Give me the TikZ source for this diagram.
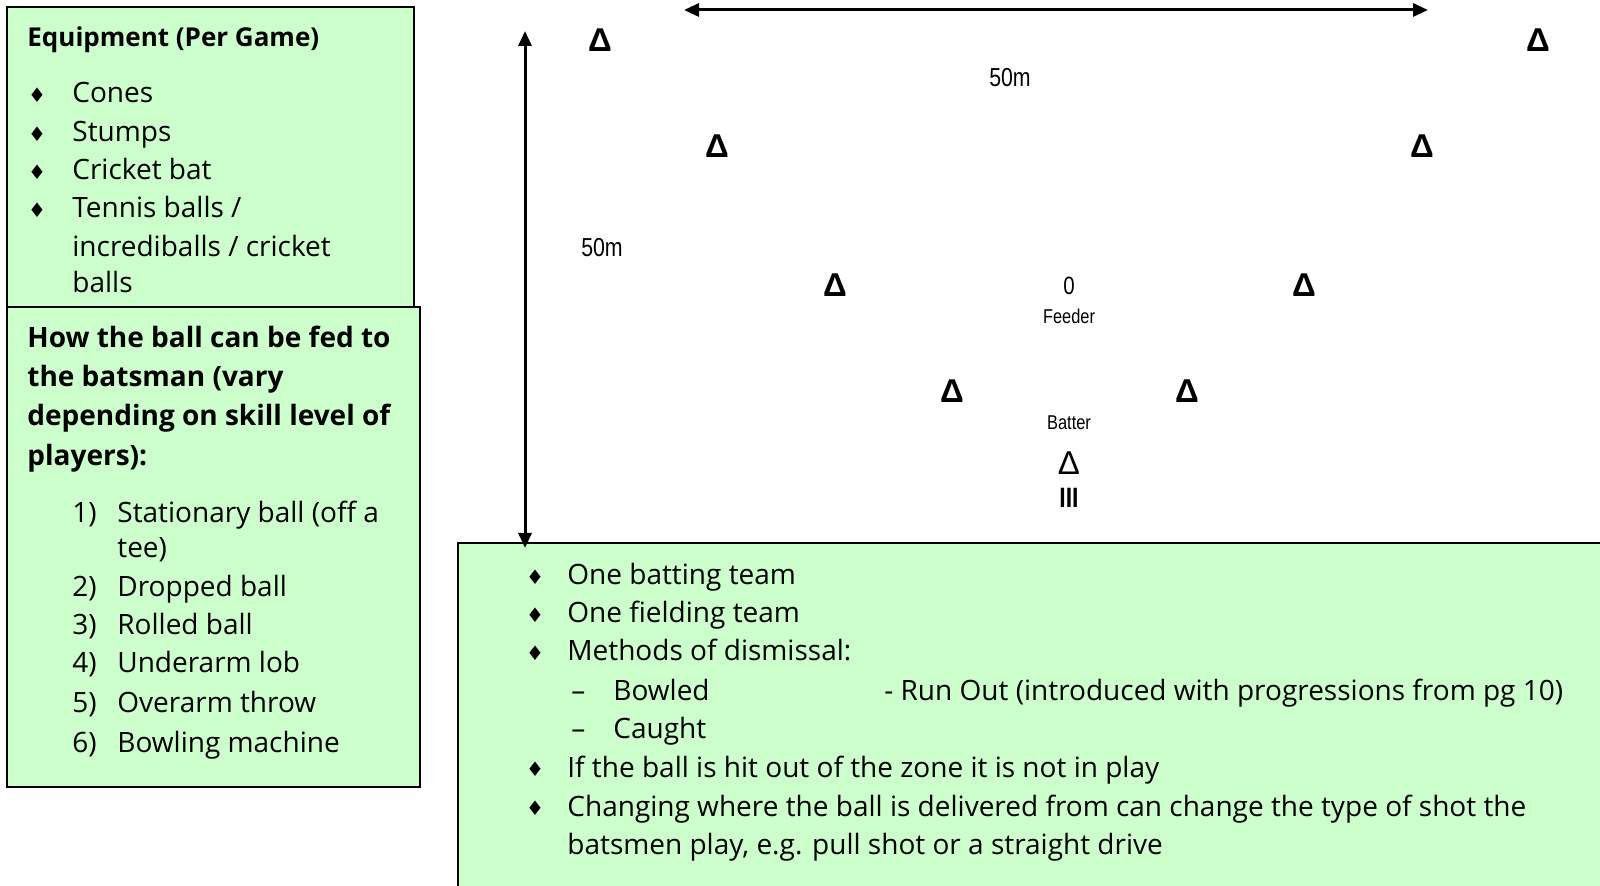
\documentclass[tikz,border=0pt]{standalone}
\usepackage{fontspec}
\usepackage{graphicx}
\setmainfont{Open Sans}
\newfontfamily\symfont{DejaVu Sans}
\newfontfamily\labelfont{Liberation Sans}
\usetikzlibrary{arrows.meta}
\definecolor{boxgreen}{HTML}{CCFFCC}
\newcommand{\narrowtext}[1]{\scalebox{0.82}[1]{#1}}
\tikzset{
  infobox/.style={draw=black, line width=1pt, fill=boxgreen},
  txt/.style={anchor=base west, inner sep=0pt, font=\fontsize{14}{17}\selectfont},
  hdr/.style={anchor=base west, inner sep=0pt, font=\fontsize{14}{17}\selectfont\bfseries},
  bul/.style={anchor=center, inner sep=0pt, font=\symfont\fontsize{10}{12}\selectfont},
  cone/.style={anchor=base, inner sep=0pt, font=\labelfont\bfseries\fontsize{16.5}{18}\selectfont},
  lbl/.style={anchor=base, inner sep=0pt, font=\labelfont\fontsize{10}{12}\selectfont},
  dimarrow/.style={line width=1.5pt, {Triangle[length=7.5pt,width=6.5pt]}-{Triangle[length=7.5pt,width=6.5pt]}}
}
\begin{document}
\begin{tikzpicture}[x=0.5pt,y=-0.5pt]
\useasboundingbox (0,0) rectangle (1600,886);
% info boxes
\draw[infobox] (7,7) rectangle (414,307);
\draw[infobox] (7,307) rectangle (420,787);
\draw[infobox] (458,543) rectangle (1610,896);
% equipment
\node[hdr, font=\fontsize{13}{16}\selectfont\bfseries] (eqhead) at (27,47) {Equipment (Per Game)};
\node[bul] (eqb1) at (37,95) {♦};
\node[txt] (eq1) at (72,103) {Cones};
\node[bul] (eqb2) at (37,134) {♦};
\node[txt] (eq2) at (72,142) {Stumps};
\node[bul] (eqb3) at (37,172) {♦};
\node[txt] (eq3) at (72,180) {Cricket bat};
\node[bul] (eqb4) at (37,210) {♦};
\node[txt] (eq4) at (72,218) {Tennis balls /};
\node[txt] (eq5) at (72,257) {incrediballs / cricket};
\node[txt] (eq6) at (72,293) {balls};
% feeding
\node[hdr] (feedhead1) at (27,348) {How the ball can be fed to};
\node[hdr] (feedhead2) at (27,387) {the batsman (vary};
\node[hdr] (feedhead3) at (27,426) {depending on skill level of};
\node[hdr] (feedhead4) at (27,466) {players):};
\node[txt] (fn1) at (72,523) {1)};
\node[txt] (feed1) at (117,523) {Stationary ball (off a};
\node[txt] (feed1b) at (117,558) {tee)};
\node[txt] (fn2) at (72,597) {2)};
\node[txt] (feed2) at (117,597) {Dropped ball};
\node[txt] (fn3) at (72,635) {3)};
\node[txt] (feed3) at (117,635) {Rolled ball};
\node[txt] (fn4) at (72,673) {4)};
\node[txt] (feed4) at (117,673) {Underarm lob};
\node[txt] (fn5) at (72,712) {5)};
\node[txt] (feed5) at (117,712) {Overarm throw};
\node[txt] (fn6) at (72,752) {6)};
\node[txt] (feed6) at (117,752) {Bowling machine};
% rules
\node[bul] (rb1) at (535,577) {♦};
\node[txt] (rule1) at (567,585) {One batting team};
\node[bul] (rb2) at (535,615) {♦};
\node[txt] (rule2) at (567,623) {One fielding team};
\node[bul] (rb3) at (535,653) {♦};
\node[txt] (rule3) at (567,661) {Methods of dismissal:};
\node[txt] (dash1) at (571,700) {–};
\node[txt] (out1) at (613,700) {Bowled};
\node[txt] (out3) at (884,700) {- Run Out (introduced with progressions from pg 10)};
\node[txt] (dash2) at (571,738) {–};
\node[txt] (out2) at (613,738) {Caught};
\node[bul] (rb4) at (535,769) {♦};
\node[txt] (rule4) at (567,777) {If the ball is hit out of the zone it is not in play};
\node[bul] (rb5) at (535,808) {♦};
\node[txt] (rule5) at (567,816) {Changing where the ball is delivered from can change the type of shot the};
\node[txt] (rule5b) at (567,854) {batsmen play, e.g. pull shot or a straight drive};
% field
\node[cone] (c1) at (600,52) {Δ};
\node[cone] (c2) at (1538,52) {Δ};
\node[cone] (c3) at (717,158) {Δ};
\node[cone] (c4) at (1422,158) {Δ};
\node[cone] (c5) at (835,297) {Δ};
\node[cone] (c6) at (1304,297) {Δ};
\node[cone] (c7) at (952,403) {Δ};
\node[cone] (c8) at (1187,403) {Δ};
\node[anchor=base, inner sep=0pt, font=\labelfont\fontsize{16.5}{18}\selectfont] (batcone) at (1069,475) {Δ};
\node[lbl, font=\labelfont\fontsize{12.5}{14}\selectfont] (feeder) at (1069,295) {\narrowtext{0}};
\node[lbl] (feedlbl) at (1069,324) {\narrowtext{Feeder}};
\node[lbl] (batlbl) at (1069,430) {\narrowtext{Batter}};
\node[lbl, font=\labelfont\bfseries\fontsize{14}{16}\selectfont] (stumps) at (1069,508) {\narrowtext{III}};
\node[lbl, font=\labelfont\fontsize{13}{15}\selectfont] (lenlbl) at (1010,87) {\narrowtext{50m}};
\node[lbl, font=\labelfont\fontsize{13}{15}\selectfont] (widlbl) at (602,257) {\narrowtext{50m}};
% dimensions
\coordinate (lenL) at (684,10);
\coordinate (lenR) at (1428,10);
\coordinate (widT) at (525,31);
\coordinate (widB) at (525,548);
\draw[dimarrow] (lenL) -- (lenR);
\draw[dimarrow] (widT) -- (widB);
\end{tikzpicture}
\end{document}
